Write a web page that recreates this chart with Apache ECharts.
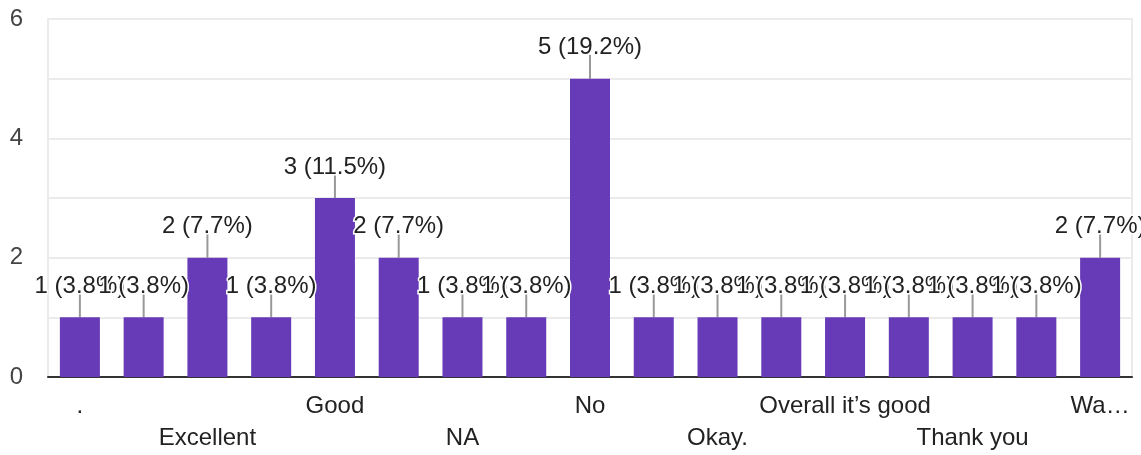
<!DOCTYPE html>
<html>
<head>
<meta charset="utf-8">
<script src="https://cdn.jsdelivr.net/npm/echarts@6/dist/echarts.min.js"></script>
<style>
html,body{margin:0;padding:0;background:#fff;}
#chart{width:1141px;height:455px;}
</style>
</head>
<body>
<div id="chart"></div>
<script>
// Categories (the odd-index labels are skipped in the reference, so their names are not legible)
const categories = [".", "Average", "Excellent", "Fine", "Good", "Good experience", "NA", "Nice", "No", "Nothing", "Okay.", "Overall good", "Overall it\u2019s good", "Satisfied", "Thank you", "Very good", "Wa\u2026"];
const counts = [1, 1, 2, 1, 3, 2, 1, 1, 5, 1, 1, 1, 1, 1, 1, 1, 2];
const yTicks = [0, 2, 4, 6];
// which category labels are shown, and on which row
const labelRow1 = [0, 4, 8, 12, 16];
const labelRow2 = [2, 6, 10, 14];

const total = counts.reduce((a, b) => a + b, 0);
const FONT = "'Liberation Sans', Arial, sans-serif";

const chart = echarts.init(document.getElementById('chart'));
chart.setOption({
  animation: false,
  grid: {
    left: 48, right: 9, top: 19, bottom: 78,
    show: true, borderColor: '#ebebeb', borderWidth: 2, backgroundColor: 'transparent'
  },
  xAxis: {
    type: 'category',
    data: categories,
    axisLine: { show: true, lineStyle: { color: '#333', width: 2 } },
    axisTick: { show: false },
    axisLabel: {
      interval: (i) => labelRow1.includes(i) || labelRow2.includes(i),
      formatter: (value, i) => labelRow2.includes(i) ? '\n' + value : value,
      fontFamily: FONT, fontSize: 24, color: '#222', lineHeight: 32, margin: 13
    }
  },
  yAxis: {
    type: 'value',
    min: 0, max: 6, interval: 1,
    axisLine: { show: false },
    axisTick: { show: false },
    splitLine: { show: true, lineStyle: { color: '#ebebeb', width: 2 } },
    axisLabel: {
      formatter: (v) => yTicks.includes(v) ? String(v) : '',
      fontFamily: FONT, fontSize: 24, color: '#444', margin: 25
    }
  },
  series: [
    {
      type: 'custom',
      z: 1,
      data: counts.map((v, i) => [i, v]),
      renderItem: (params, api) => {
        const p = api.coord([api.value(0), api.value(1)]);
        return {
          type: 'line',
          shape: { x1: p[0], y1: p[1], x2: p[0], y2: p[1] - 24 },
          style: { stroke: '#999', lineWidth: 2 }
        };
      }
    },
    {
      type: 'bar',
      z: 2,
      data: counts,
      barWidth: 40,
      itemStyle: { color: '#673ab7' },
      label: {
        show: true,
        position: 'top',
        distance: 19,
        formatter: (p) => p.value + ' (' + (p.value / total * 100).toFixed(1) + '%)',
        fontFamily: FONT, fontSize: 24, lineHeight: 24, color: '#222',
        textBorderColor: '#fff', textBorderWidth: 3
      }
    }
  ]
});
</script>
</body>
</html>
